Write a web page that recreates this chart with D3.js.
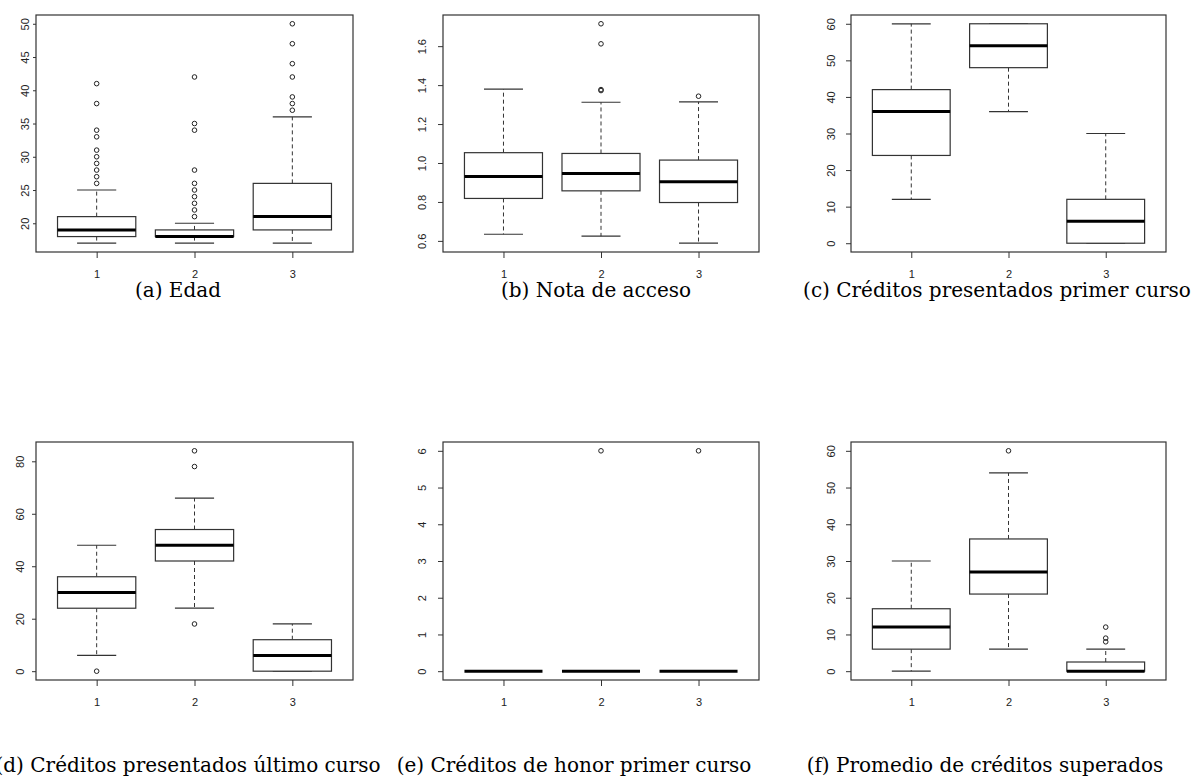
<!DOCTYPE html>
<html>
<head>
<meta charset="utf-8">
<script src="https://cdn.jsdelivr.net/npm/d3@7"></script>
<style>
body { margin: 0; background: #fff; }
svg { display: block; }
.tick text { font-family: "Liberation Sans", Arial, sans-serif; font-size: 11px; fill: #222; }
.tick line { stroke: #333; }
.caption { font-family: "DejaVu Serif", "Liberation Serif", serif; font-size: 20px; fill: #000; }
</style>
</head>
<body>
<script>
// grupos (clusters)
var groups = [1, 2, 3];

// cada fila: [bigote inferior, Q1, mediana, Q3, bigote superior]
var edadStats = [[17, 18, 19, 21, 25], [17, 18, 18, 19, 20], [17, 19, 21, 26, 36]];
var edadOut = [[26, 27, 28, 29, 30, 31, 33, 34, 38, 41], [21, 22, 23, 24, 25, 26, 28, 34, 35, 42], [37, 38, 39, 42, 44, 47, 50]];
var edadTicks = [20, 25, 30, 35, 40, 45, 50];

var notaStats = [[0.634, 0.818, 0.931, 1.053, 1.379], [0.624, 0.857, 0.946, 1.049, 1.312], [0.588, 0.797, 0.904, 1.015, 1.314]];
var notaOut = [[], [1.372, 1.377, 1.612, 1.715], [1.343]];
var notaTicks = [0.6, 0.8, 1.0, 1.2, 1.4, 1.6];

var credPrimStats = [[12, 24, 36, 42, 60], [36, 48, 54, 60, 60], [0, 0, 6, 12, 30]];
var credPrimOut = [[], [], []];
var credPrimTicks = [0, 10, 20, 30, 40, 50, 60];

var credUltStats = [[6, 24, 30, 36, 48], [24, 42, 48, 54, 66], [0, 0, 6, 12, 18]];
var credUltOut = [[0], [18, 78, 84], []];
var credUltTicks = [0, 20, 40, 60, 80];

var honorStats = [[0, 0, 0, 0, 0], [0, 0, 0, 0, 0], [0, 0, 0, 0, 0]];
var honorOut = [[], [6], [6]];
var honorTicks = [0, 1, 2, 3, 4, 5, 6];

var promStats = [[0, 6, 12, 17, 30], [6, 21, 27, 36, 54], [0, 0, 0, 2.5, 6]];
var promOut = [[], [60], [8, 9, 12]];
var promTicks = [0, 10, 20, 30, 40, 50, 60];

var captions = ["(a) Edad", "(b) Nota de acceso", "(c) Créditos presentados primer curso",
  "(d) Créditos presentados último curso", "(e) Créditos de honor primer curso", "(f) Promedio de créditos superados"];

var width = 1194, height = 780;

// posicion de cada panel
var colL = [36, 443, 851], colR = [353, 759, 1166];
var rowT = [15, 442], rowB = [252, 680];
var capX = [178, 596, 997, 188, 574, 985];
var capY = [297, 772];
var labOff = [7, 17, 16, 12, 17, 16];   // distancia etiqueta y -> marco
var tickLen = [3, 5, 5, 4, 5, 5];

var panels = [
  {stats: edadStats, out: edadOut, ticks: edadTicks, fmt: d3.format("d")},
  {stats: notaStats, out: notaOut, ticks: notaTicks, fmt: d3.format(".1f")},
  {stats: credPrimStats, out: credPrimOut, ticks: credPrimTicks, fmt: d3.format("d")},
  {stats: credUltStats, out: credUltOut, ticks: credUltTicks, fmt: d3.format("d")},
  {stats: honorStats, out: honorOut, ticks: honorTicks, fmt: d3.format("d")},
  {stats: promStats, out: promOut, ticks: promTicks, fmt: d3.format("d")}
];

var svg = d3.select("body").append("svg")
  .attr("width", width)
  .attr("height", height);

panels.forEach(function(p, k) {
  var c = k % 3, r = Math.floor(k / 3);
  var L = colL[c], R = colR[c], T = rowT[r], B = rowB[r];

  // rango como en R: extension del 4%
  var vals = [];
  p.stats.forEach(function(s) { vals = vals.concat(s); });
  p.out.forEach(function(o) { vals = vals.concat(o); });
  var ext = d3.extent(vals);
  var pad = (ext[1] - ext[0]) * 0.04;

  var y = d3.scaleLinear().domain([ext[0] - pad, ext[1] + pad]).range([B, T]);
  var x = d3.scaleLinear().domain([0.38, 3.62]).range([L, R]);

  var g = svg.append("g");

  // eje y (etiquetas giradas)
  var ya = g.append("g")
    .attr("transform", "translate(" + L + ",0)")
    .call(d3.axisLeft(y).tickValues(p.ticks).tickFormat(p.fmt).tickSize(tickLen[k]).tickSizeOuter(0));
  ya.select(".domain").remove();
  ya.selectAll(".tick text")
    .attr("transform", "rotate(-90)")
    .attr("x", 0)
    .attr("y", -labOff[k])
    .attr("dy", 0)
    .attr("text-anchor", "middle");

  // eje x
  var xa = g.append("g")
    .attr("transform", "translate(0," + B + ")")
    .call(d3.axisBottom(x).tickValues(groups).tickFormat(d3.format("d")).tickSize(6).tickSizeOuter(0).tickPadding(12));
  xa.select(".domain").remove();

  var bw = 0.4;
  p.stats.forEach(function(s, i) {
    var gx = groups[i];
    var cx = x(gx);
    // bigotes
    g.append("line").attr("x1", cx).attr("x2", cx).attr("y1", y(s[3])).attr("y2", y(s[4]))
      .attr("stroke", "#333").attr("stroke-dasharray", "4,3");
    g.append("line").attr("x1", cx).attr("x2", cx).attr("y1", y(s[1])).attr("y2", y(s[0]))
      .attr("stroke", "#333").attr("stroke-dasharray", "4,3");
    // topes
    [s[0], s[4]].forEach(function(v) {
      g.append("line").attr("x1", x(gx - bw / 2)).attr("x2", x(gx + bw / 2))
        .attr("y1", y(v)).attr("y2", y(v)).attr("stroke", "#333").attr("stroke-width", 1.2);
    });
    // caja
    g.append("rect")
      .attr("x", x(gx - bw)).attr("width", x(gx + bw) - x(gx - bw))
      .attr("y", y(s[3])).attr("height", y(s[1]) - y(s[3]))
      .attr("fill", "#fff").attr("stroke", "#333").attr("stroke-width", 1.2);
    // mediana
    g.append("line").attr("x1", x(gx - bw)).attr("x2", x(gx + bw))
      .attr("y1", y(s[2])).attr("y2", y(s[2]))
      .attr("stroke", "#000").attr("stroke-width", 3);
    // atipicos
    g.selectAll(null).data(p.out[i]).enter().append("circle")
      .attr("cx", cx).attr("cy", function(d) { return y(d); })
      .attr("r", 2.3).attr("fill", "none").attr("stroke", "#222").attr("stroke-width", 1);
  });

  // marco
  g.append("rect").attr("x", L).attr("y", T).attr("width", R - L).attr("height", B - T)
    .attr("fill", "none").attr("stroke", "#333").attr("stroke-width", 1.2);

  svg.append("text").attr("class", "caption")
    .attr("x", capX[k]).attr("y", capY[r])
    .attr("text-anchor", "middle")
    .text(captions[k]);
});
</script>
</body>
</html>
